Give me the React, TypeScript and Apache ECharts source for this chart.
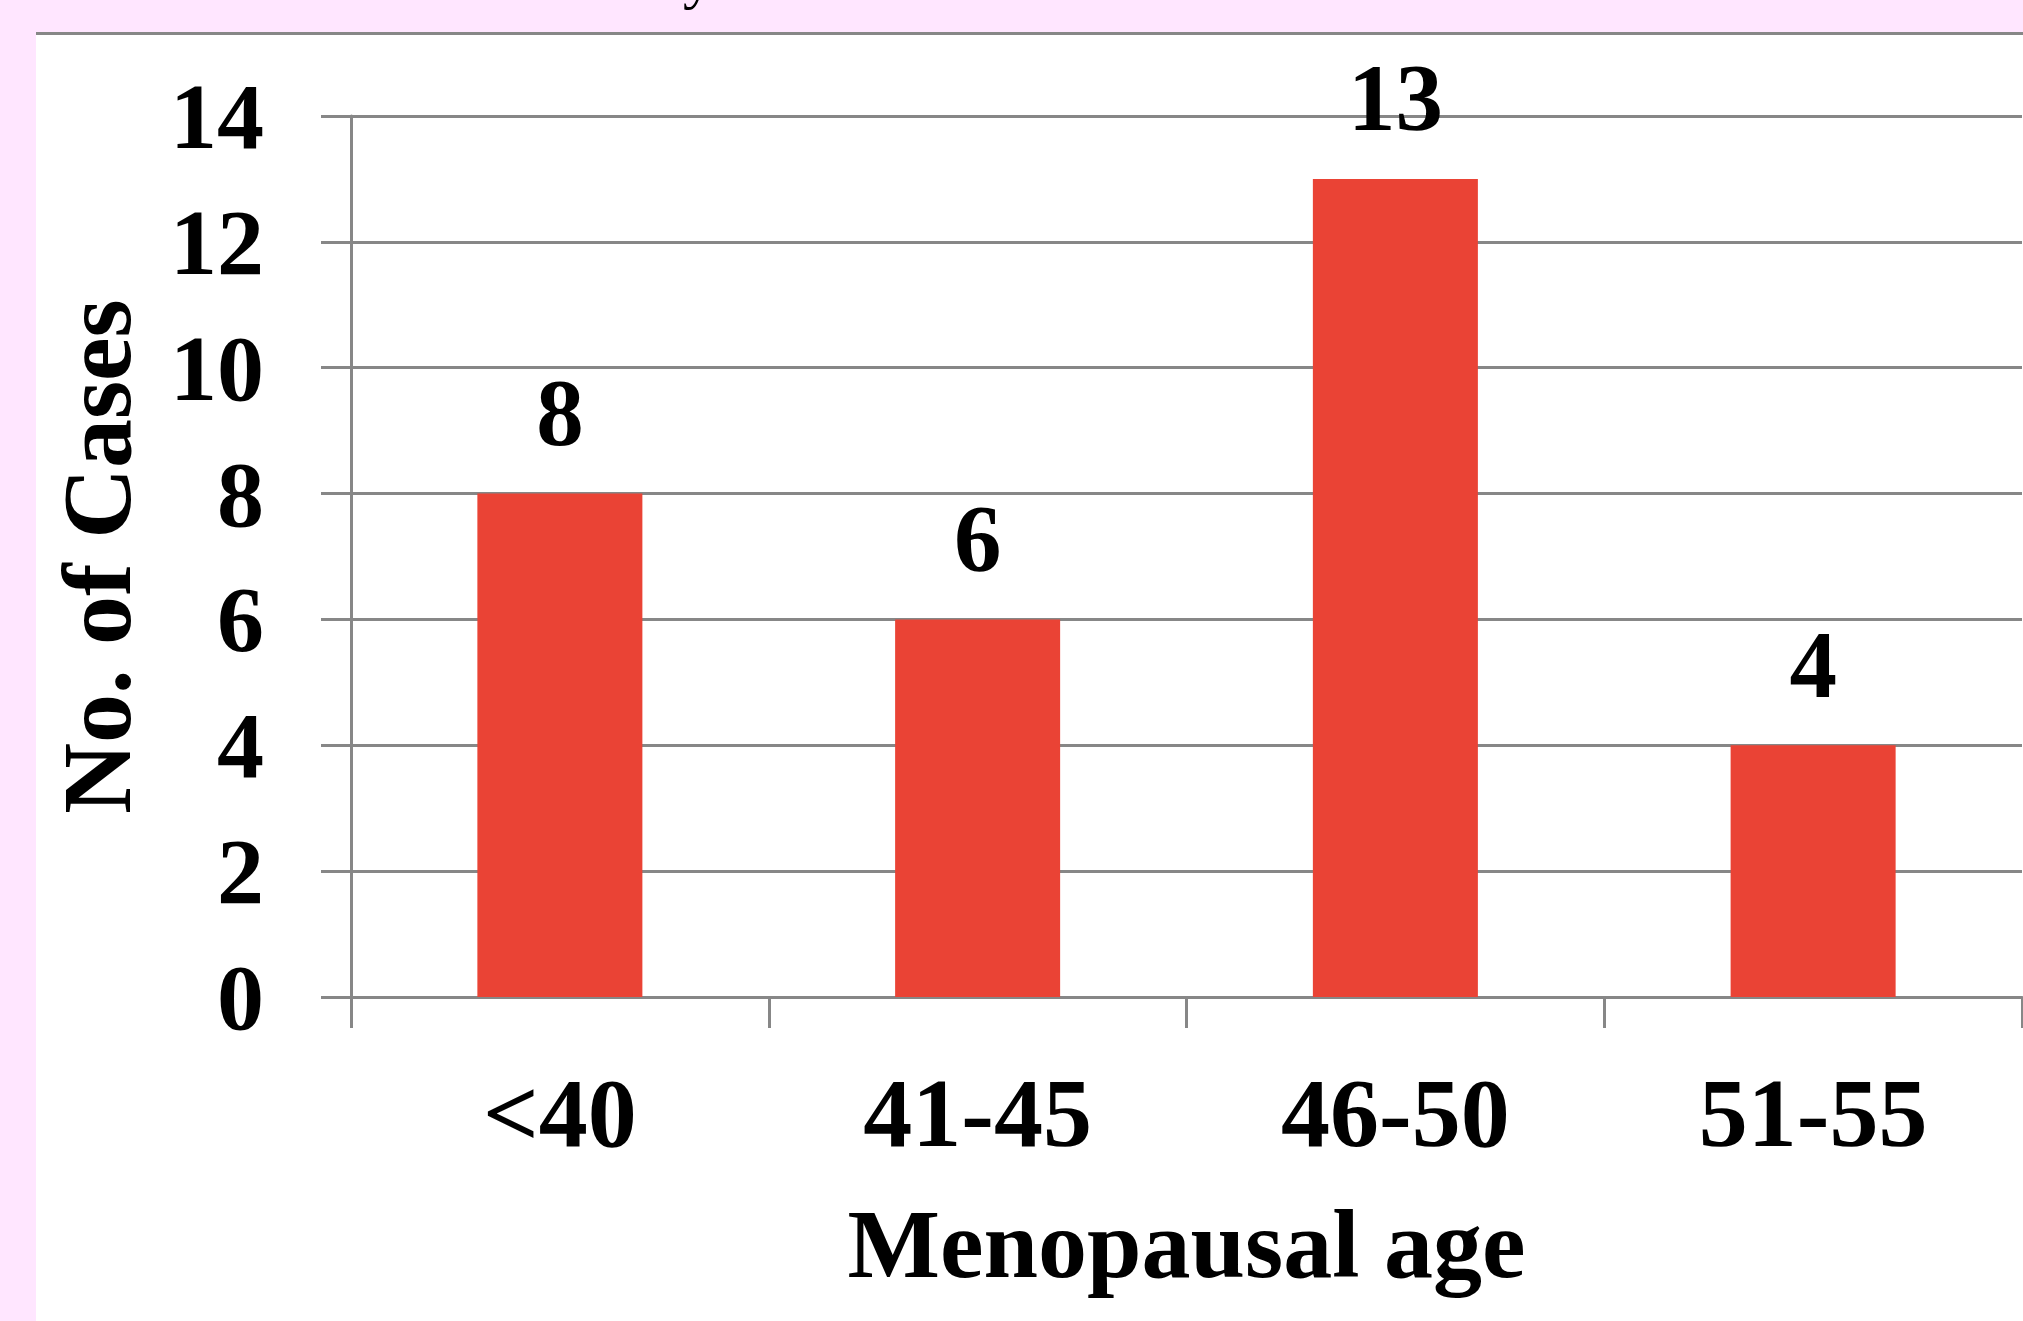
import React, { useEffect, useRef } from "react";
import * as echarts from "echarts";

const categories = ["<40", "41-45", "46-50", "51-55"];
const cases = [8, 6, 13, 4];
const yMin = 0;
const yMax = 14;
const yStep = 2;
const xAxisTitle = "Menopausal age";
const yAxisTitle = "No. of Cases";

const FONT = "'Liberation Serif', 'Times New Roman', serif";
const GRAY = "#878787";

export default function App() {
  const ref = useRef<HTMLDivElement>(null);

  useEffect(() => {
    document.body.style.margin = "0";
    const chart = echarts.init(ref.current!, null, { renderer: "svg" });
    chart.setOption({
      animation: false,
      backgroundColor: "#FFE6FF",
      graphic: [
        {
          type: "rect",
          z: -10,
          shape: { x: 36, y: 34, width: 1987, height: 1287 },
          style: { fill: "#ffffff" },
        },
        {
          type: "line",
          z: -5,
          shape: { x1: 36, y1: 33.5, x2: 2023, y2: 33.5 },
          style: { stroke: GRAY, lineWidth: 3 },
        },
        {
          type: "text",
          z: -5,
          style: {
            text: "y",
            x: 698,
            y: -23,
            fontSize: 60,
            fontFamily: FONT,
            textAlign: "center",
            verticalAlign: "middle",
            fill: "#000",
          },
        },
      ],
      grid: { left: 351, right: 1, top: 116, bottom: 324, containLabel: false },
      xAxis: {
        type: "category",
        data: categories,
        axisLine: { show: true, lineStyle: { color: GRAY, width: 3 } },
        axisTick: { show: true, length: 31, lineStyle: { color: GRAY, width: 3 } },
        axisLabel: {
          margin: 67,
          fontSize: 98,
          fontWeight: "bold",
          fontFamily: FONT,
          color: "#000",
        },
        name: xAxisTitle,
        nameLocation: "middle",
        nameGap: 198,
        nameTextStyle: {
          fontSize: 98,
          fontWeight: "bold",
          fontFamily: FONT,
          color: "#000",
        },
      },
      yAxis: {
        type: "value",
        min: yMin,
        max: yMax,
        interval: yStep,
        axisLine: { show: true, lineStyle: { color: GRAY, width: 3 } },
        axisTick: { show: true, length: 30, lineStyle: { color: GRAY, width: 3 } },
        splitLine: { show: true, lineStyle: { color: GRAY, width: 3 } },
        axisLabel: {
          margin: 87,
          fontSize: 94,
          fontWeight: "bold",
          fontFamily: FONT,
          color: "#000",
        },
        name: yAxisTitle,
        nameLocation: "middle",
        nameGap: 205,
        nameRotate: 90,
        nameTextStyle: {
          fontSize: 98,
          fontWeight: "bold",
          fontFamily: FONT,
          color: "#000",
        },
      },
      series: [
        {
          type: "bar",
          data: cases,
          barWidth: "39.5%",
          itemStyle: { color: "#EA4335" },
          label: {
            show: true,
            position: "top",
            distance: 33,
            fontSize: 95,
            fontWeight: "bold",
            fontFamily: FONT,
            color: "#000",
          },
        },
      ],
    });
    return () => chart.dispose();
  }, []);

  return <div ref={ref} style={{ width: 2023, height: 1321 }} />;
}
